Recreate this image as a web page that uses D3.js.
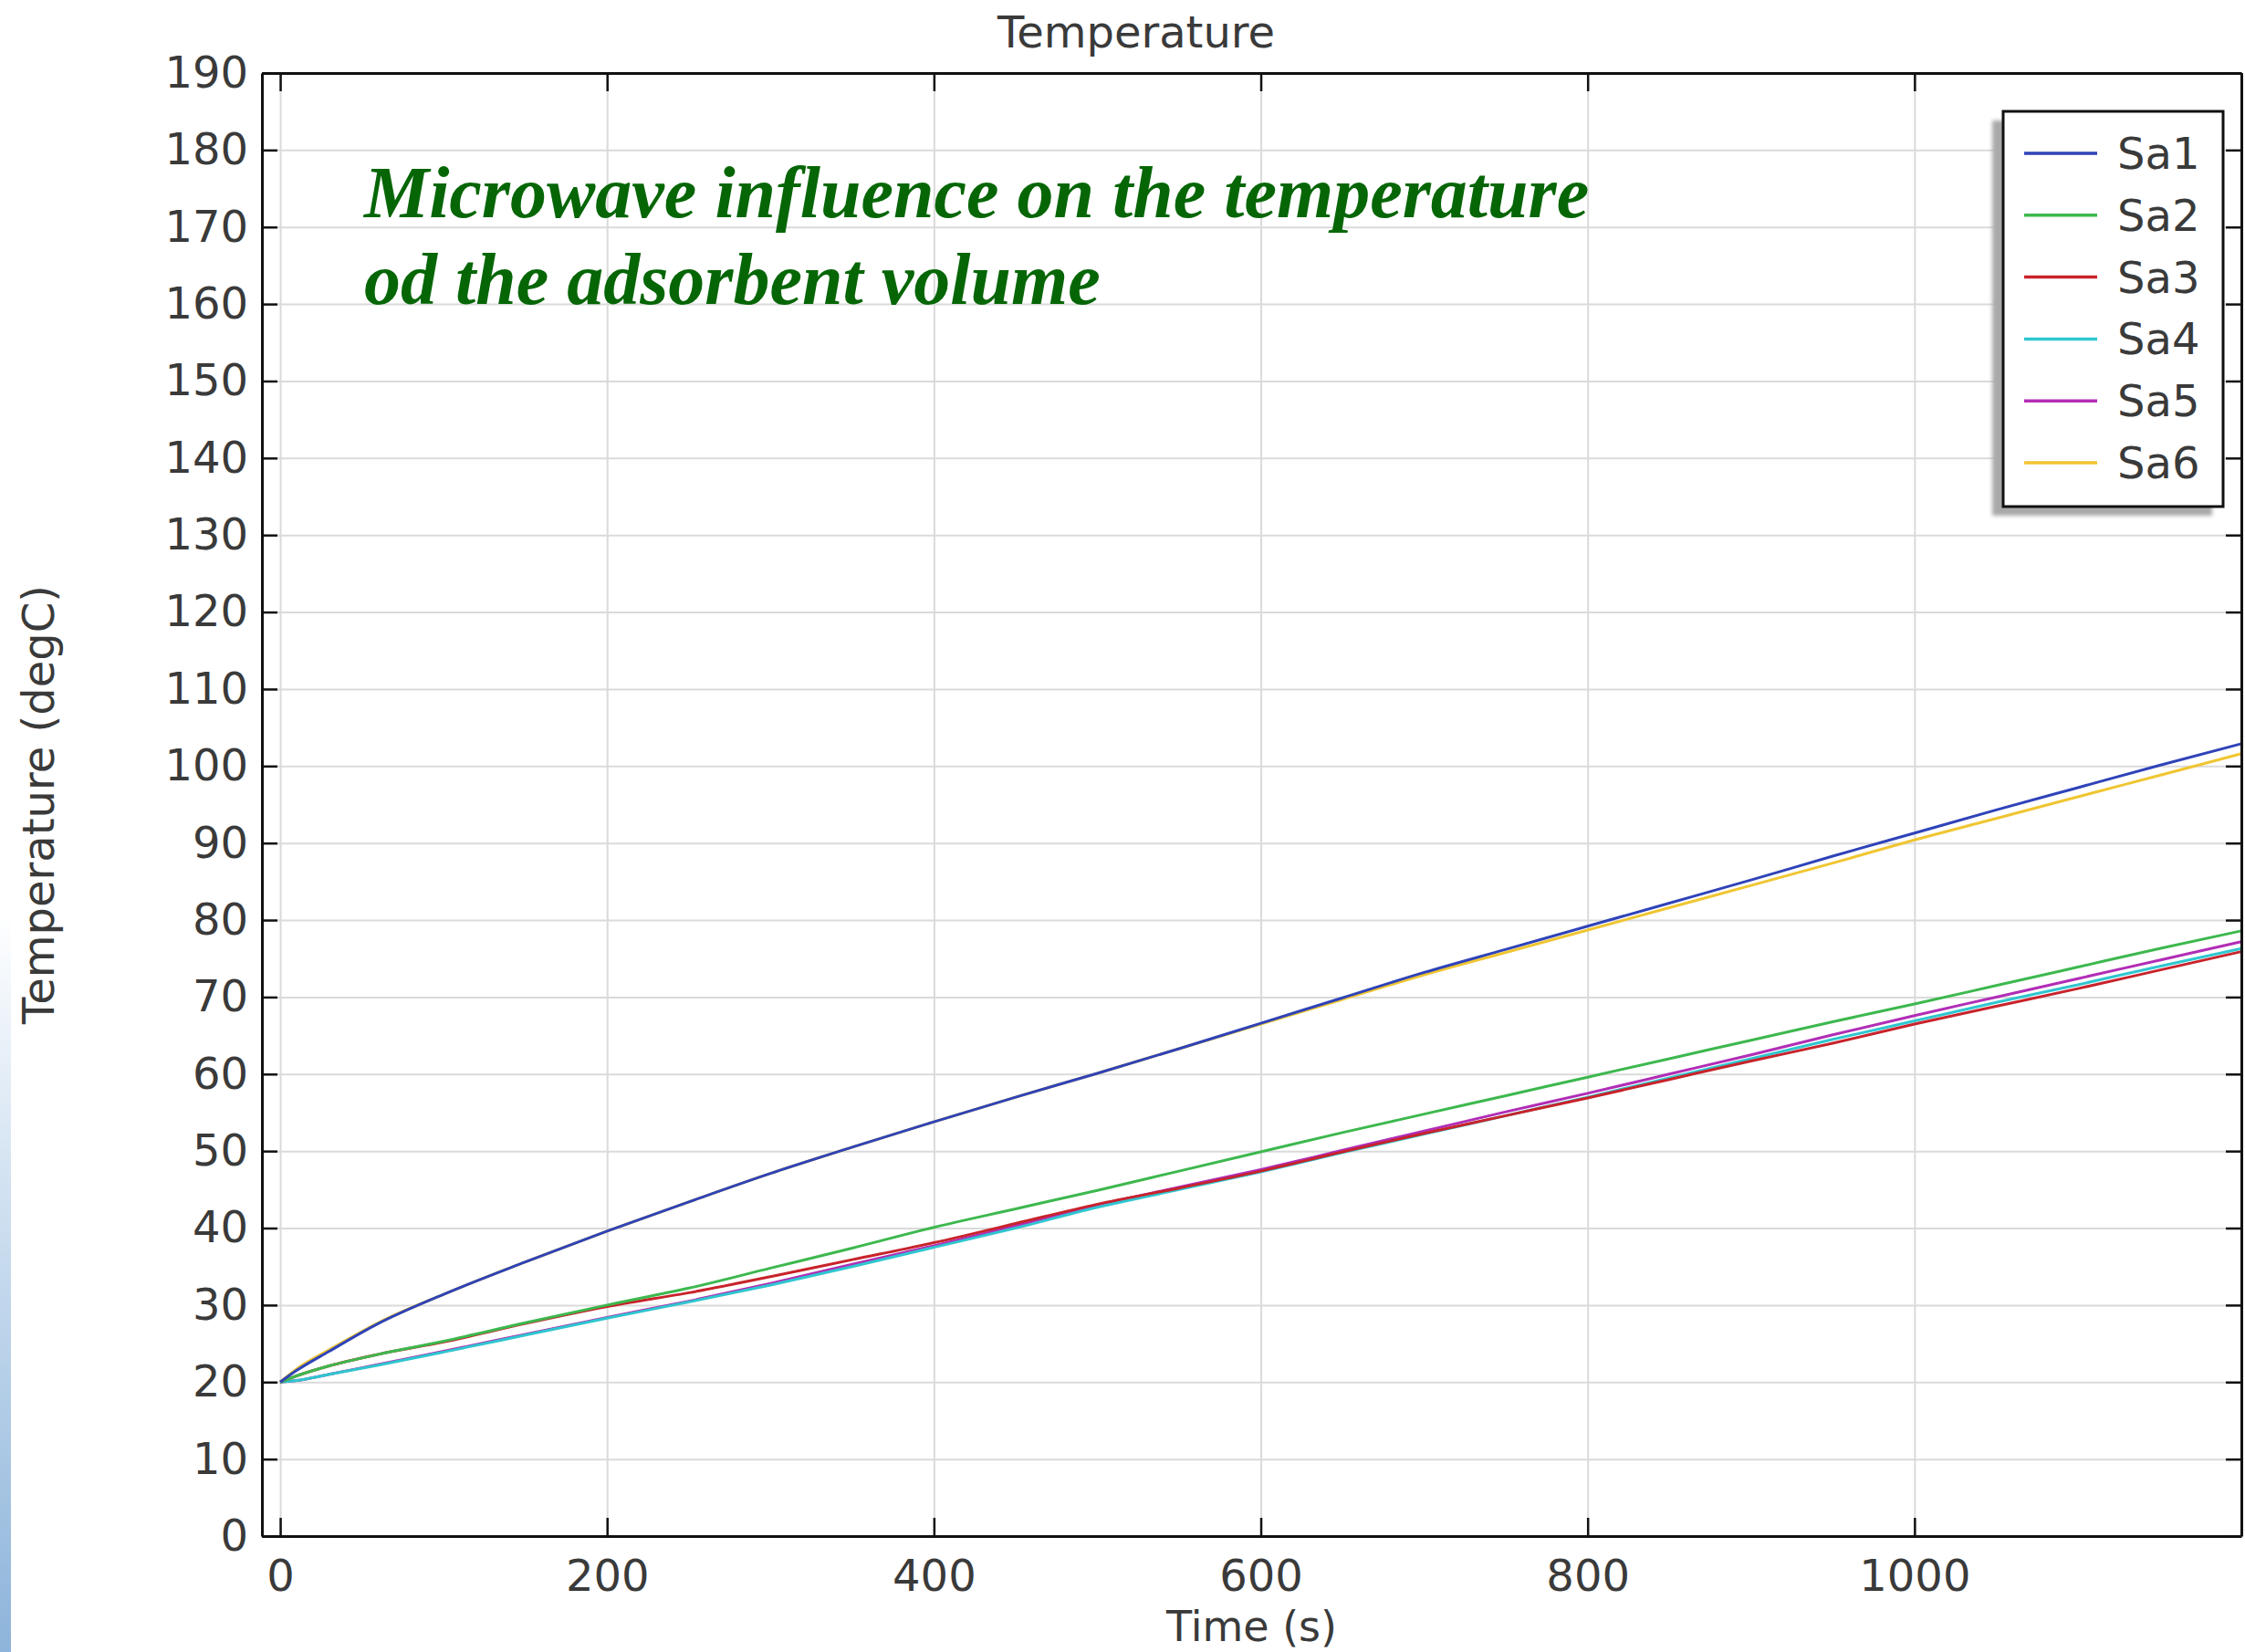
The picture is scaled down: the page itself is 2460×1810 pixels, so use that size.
<!DOCTYPE html>
<html>
<head>
<meta charset="utf-8">
<script src="https://cdn.jsdelivr.net/npm/d3@7"></script>
<style>
  body { margin: 0; background: #fff; }
  svg { display: block; }
  .tick text { font-family: "DejaVu Sans", sans-serif; }
</style>
</head>
<body>
<div id="main_container"></div>
<script>

// -- DATA

var times = [0, 10, 30, 60, 100, 150, 200, 250, 300, 350, 400, 450, 500, 550, 600, 650, 700, 750, 800, 850, 900, 950, 1000, 1050, 1100, 1150, 1200];

var sa1 = [20, 21.5, 24.0, 27.6, 31.4, 35.6, 39.6, 43.4, 47.1, 50.5, 53.8, 57.0, 60.1, 63.3, 66.6, 69.9, 73.2, 76.2, 79.2, 82.2, 85.2, 88.3, 91.3, 94.3, 97.2, 100.1, 102.9];
var sa2 = [20, 20.8, 22.1, 23.6, 25.3, 27.7, 30.0, 32.2, 34.8, 37.4, 40.1, 42.5, 44.9, 47.4, 49.9, 52.4, 54.8, 57.2, 59.6, 62.0, 64.4, 66.8, 69.1, 71.5, 73.9, 76.3, 78.6];
var sa3 = [20, 20.8, 22.1, 23.6, 25.2, 27.6, 29.8, 31.6, 33.7, 35.9, 38.1, 40.6, 43.1, 45.2, 47.4, 49.9, 52.3, 54.6, 56.9, 59.3, 61.7, 64.0, 66.5, 68.8, 71.1, 73.5, 75.9];
var sa4 = [20, 20.2, 21.0, 22.2, 23.9, 26.1, 28.3, 30.4, 32.6, 35.0, 37.5, 40.0, 42.7, 45.0, 47.3, 49.8, 52.2, 54.6, 57.0, 59.5, 62.0, 64.5, 66.9, 69.3, 71.6, 74.0, 76.3];
var sa5 = [20, 20.2, 21.0, 22.3, 24.0, 26.2, 28.4, 30.5, 32.8, 35.3, 37.7, 40.3, 43.0, 45.3, 47.6, 50.1, 52.6, 55.1, 57.5, 60.0, 62.5, 65.1, 67.6, 70.0, 72.4, 74.8, 77.2];
var sa6 = [20, 21.7, 24.2, 27.7, 31.4, 35.6, 39.6, 43.4, 47.1, 50.5, 53.8, 57.0, 60.1, 63.3, 66.5, 69.7, 72.9, 75.8, 78.7, 81.6, 84.5, 87.4, 90.4, 93.2, 96.0, 98.8, 101.6];

var seriesNames = ["Sa1", "Sa2", "Sa3", "Sa4", "Sa5", "Sa6"];
var seriesValues = [sa1, sa2, sa3, sa4, sa5, sa6];
var seriesColors = ["#2f43b8", "#3db84e", "#c8232b", "#2fc6cf", "#b12db6", "#f0c531"];

var xTicks = [0, 200, 400, 600, 800, 1000, 1200];
var xTickLabels = ["0", "200", "400", "600", "800", "1000", ""];
var yTicks = d3.range(0, 191, 10);

var chartTitle = "Temperature";
var xTitle = "Time (s)";
var yTitle = "Temperature (degC)";
var noteLines = ["Microwave influence on the temperature", "od the adsorbent volume"];

// -- LAYOUT

var W = 2460, H = 1810;
var plot = {left: 287, right: 2456, top: 80, bottom: 1683};
var FONT = "DejaVu Sans, sans-serif";
var TEXT_COLOR = "#3a3a3a";

var svg = d3.select("#main_container")
  .append("svg")
  .attr("width", W)
  .attr("height", H);

var defs = svg.append("defs");

// slide decoration: blue strip on the far left
var grad = defs.append("linearGradient")
  .attr("id", "leftStrip")
  .attr("x1", 0).attr("y1", 0).attr("x2", 0).attr("y2", 1);
grad.append("stop").attr("offset", "0%").attr("stop-color", "#ffffff");
grad.append("stop").attr("offset", "35%").attr("stop-color", "#d4e3f2");
grad.append("stop").attr("offset", "100%").attr("stop-color", "#8db4da");

var blur = defs.append("filter").attr("id", "shadowBlur");
blur.append("feGaussianBlur").attr("stdDeviation", 2);

svg.append("rect")
  .attr("x", 0).attr("y", 0)
  .attr("width", W).attr("height", H)
  .attr("fill", "#fff");

svg.append("rect")
  .attr("x", 0).attr("y", 1000)
  .attr("width", 12).attr("height", H - 1000)
  .attr("fill", "url(#leftStrip)");

var x = d3.scaleLinear()
  .domain([-11.2, 1200])
  .range([plot.left, plot.right]);

var y = d3.scaleLinear()
  .domain([0, 190])
  .range([plot.bottom, plot.top]);

var plotW = plot.right - plot.left;
var plotH = plot.bottom - plot.top;

// -- GRID

svg.append("g")
  .attr("class", "grid")
  .attr("transform", "translate(0," + plot.bottom + ")")
  .call(d3.axisBottom(x).tickValues(xTicks).tickSize(-plotH).tickFormat(""))
  .call(function(g) { g.select(".domain").remove(); })
  .selectAll("line")
  .attr("stroke", "#dadada")
  .attr("stroke-width", 2);

svg.append("g")
  .attr("class", "grid")
  .attr("transform", "translate(" + plot.left + ",0)")
  .call(d3.axisLeft(y).tickValues(yTicks).tickSize(-plotW).tickFormat(""))
  .call(function(g) { g.select(".domain").remove(); })
  .selectAll("line")
  .attr("stroke", "#dadada")
  .attr("stroke-width", 2);

// -- LINES

var line = d3.line()
  .curve(d3.curveMonotoneX)
  .x(function(d) { return x(d.t); })
  .y(function(d) { return y(d.v); });

// draw last series first so Sa1 ends up on top
for (var s = seriesValues.length - 1; s >= 0; s--) {
  var pts = [];
  for (var i = 0; i < times.length; i++) {
    pts.push({t: times[i], v: seriesValues[s][i]});
  }
  svg.append("path")
    .datum(pts)
    .attr("fill", "none")
    .attr("stroke", seriesColors[s])
    .attr("stroke-width", 3)
    .attr("stroke-linejoin", "round")
    .attr("d", line);
}

// -- AXES (ticks point inwards, mirrored on top and right)

function styleAxis(g) {
  g.select(".domain").attr("stroke", "#111").attr("stroke-width", 3);
  g.selectAll(".tick line").attr("stroke", "#111").attr("stroke-width", 2.5);
  g.selectAll(".tick text")
    .attr("fill", TEXT_COLOR)
    .style("font-family", FONT)
    .style("font-size", "48px");
}

svg.append("g")
  .attr("transform", "translate(0," + plot.bottom + ")")
  .call(d3.axisBottom(x).tickValues(xTicks)
    .tickFormat(function(d, i) { return xTickLabels[i]; })
    .tickSizeInner(-20).tickSizeOuter(0).tickPadding(26))
  .call(styleAxis);

svg.append("g")
  .attr("transform", "translate(0," + plot.top + ")")
  .call(d3.axisTop(x).tickValues(xTicks).tickFormat("")
    .tickSizeInner(-20).tickSizeOuter(0))
  .call(styleAxis);

svg.append("g")
  .attr("transform", "translate(" + plot.left + ",0)")
  .call(d3.axisLeft(y).tickValues(yTicks).tickFormat(d3.format("d"))
    .tickSizeInner(-17).tickSizeOuter(0).tickPadding(15))
  .call(styleAxis);

svg.append("g")
  .attr("transform", "translate(" + plot.right + ",0)")
  .call(d3.axisRight(y).tickValues(yTicks).tickFormat("")
    .tickSizeInner(-17).tickSizeOuter(0))
  .call(styleAxis);

// -- TITLES

svg.append("text")
  .attr("x", 1245)
  .attr("y", 52)
  .attr("text-anchor", "middle")
  .attr("fill", TEXT_COLOR)
  .style("font-family", FONT)
  .style("font-size", "48px")
  .text(chartTitle);

svg.append("text")
  .attr("x", (plot.left + plot.right) / 2)
  .attr("y", 1798)
  .attr("text-anchor", "middle")
  .attr("fill", TEXT_COLOR)
  .style("font-family", FONT)
  .style("font-size", "46px")
  .text(xTitle);

svg.append("text")
  .attr("transform", "translate(42," + ((plot.top + plot.bottom) / 2) + ") rotate(-90)")
  .attr("text-anchor", "middle")
  .attr("dominant-baseline", "central")
  .attr("fill", TEXT_COLOR)
  .style("font-family", FONT)
  .style("font-size", "48px")
  .text(yTitle);

// green note written on the slide
var note = svg.append("text")
  .attr("fill", "#066606")
  .style("font-family", "Liberation Serif, Times New Roman, serif")
  .style("font-weight", "bold")
  .style("font-style", "italic")
  .style("font-size", "80px");
for (var n = 0; n < noteLines.length; n++) {
  note.append("tspan")
    .attr("x", 399)
    .attr("y", 238 + n * 95)
    .text(noteLines[n]);
}

// -- LEGEND

var legend = {x: 2195, y: 122, w: 241, h: 433};

svg.append("rect")
  .attr("x", legend.x - 12).attr("y", legend.y + 10)
  .attr("width", legend.w).attr("height", legend.h)
  .attr("fill", "#a9a9a9")
  .attr("filter", "url(#shadowBlur)");

svg.append("rect")
  .attr("x", legend.x).attr("y", legend.y)
  .attr("width", legend.w).attr("height", legend.h)
  .attr("fill", "#fff")
  .attr("stroke", "#111")
  .attr("stroke-width", 3);

var rowY = d3.scalePoint()
  .domain(seriesNames)
  .range([168, 507]);

var rows = svg.selectAll(".legend-row")
  .data(seriesNames)
  .enter()
  .append("g")
  .attr("class", "legend-row")
  .attr("transform", function(d) { return "translate(0," + rowY(d) + ")"; });

rows.append("line")
  .attr("x1", 2218).attr("x2", 2298)
  .attr("y1", 0).attr("y2", 0)
  .attr("stroke", function(d, i) { return seriesColors[i]; })
  .attr("stroke-width", 3.5);

rows.append("text")
  .attr("x", 2320)
  .attr("y", 0)
  .attr("dominant-baseline", "central")
  .attr("fill", TEXT_COLOR)
  .style("font-family", FONT)
  .style("font-size", "48px")
  .text(function(d) { return d; });

</script>
</body>
</html>
